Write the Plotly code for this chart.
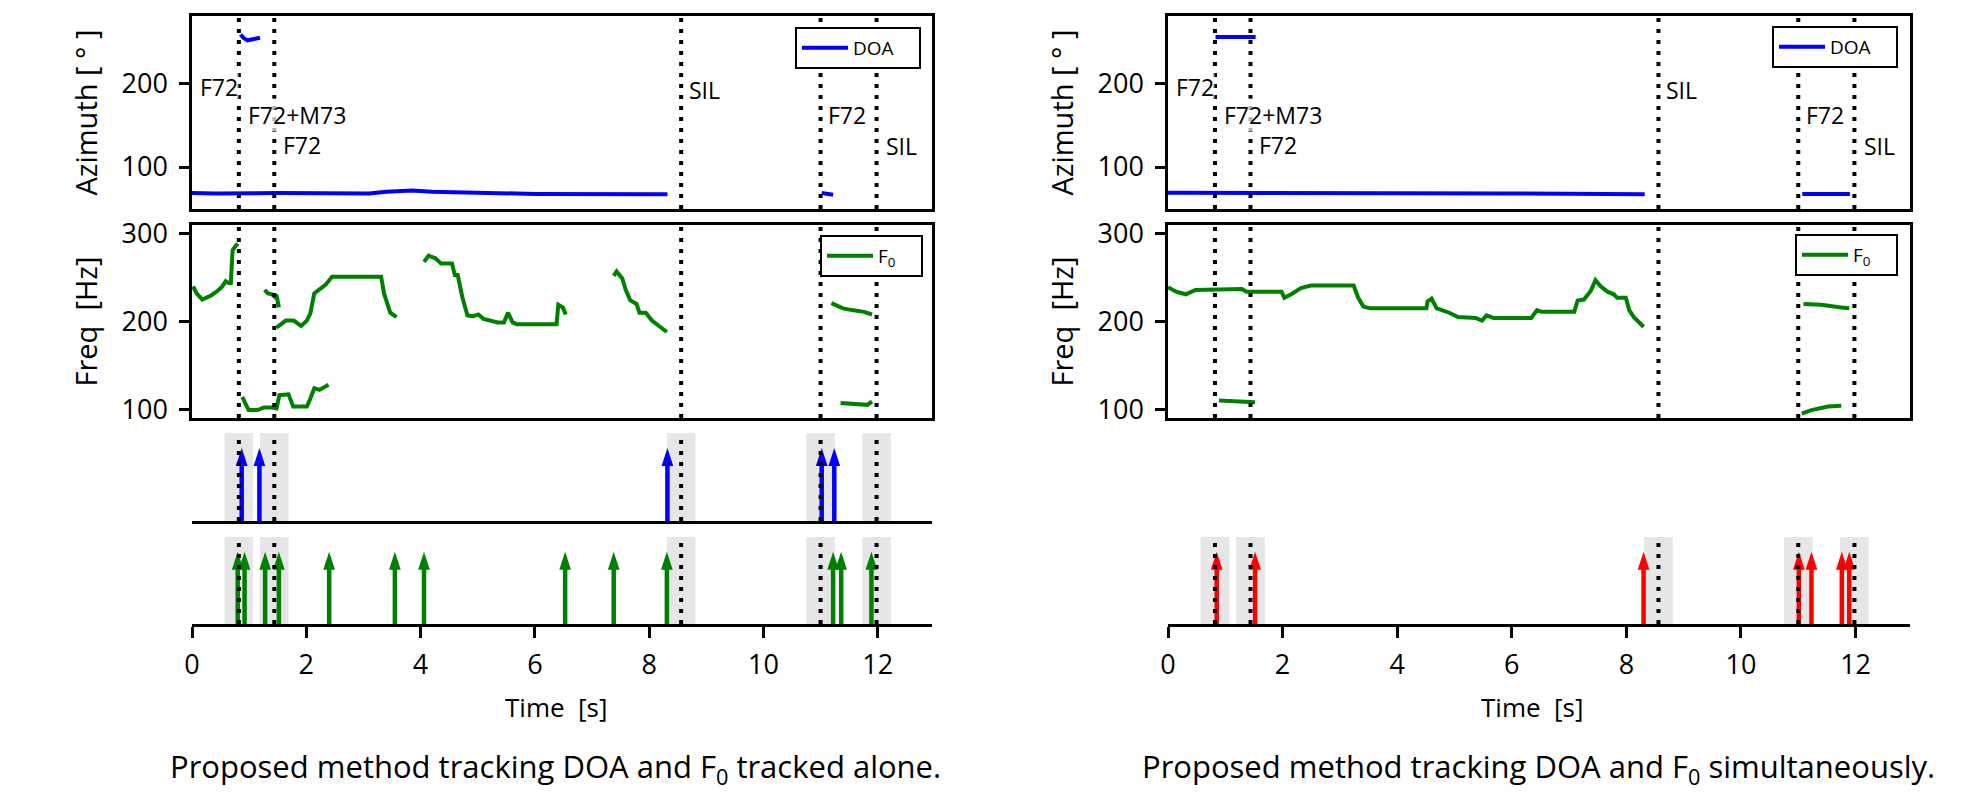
import plotly.graph_objects as go

# reference canvas is 1984x796; the page body adds an 8px margin, so the figure is
# drawn 8px smaller and every pixel position is shifted by that offset
W, H = 1984, 796
OFF = 8
FW, FH = W - OFF, H - OFF

# ---------------- data ----------------
X_RANGE = [0, 12.95]
AZ_RANGE = [50, 280]
F0_RANGE = [90, 310]
TIME_TICKS = [0, 2, 4, 6, 8, 10, 12]
AZ_TICKS = [100, 200]
F0_TICKS = [100, 200, 300]

BOUNDARIES = [0.82, 1.44, 8.56, 11.0, 11.98]
SPAN_HALF = 0.25
LABEL_TEXT = ["F72", "F72+M73", "F72", "SIL", "F72", "SIL"]
LABEL_T = [0.12, 0.96, 1.57, 8.68, 11.12, 12.13]
LABEL_Y = [195, 162, 126, 192, 162, 125]

# left: tracked alone
L_DOA_1_T = [0, 0.4, 1.5, 2.5, 3.1, 3.4, 3.85, 4.2, 4.9, 5.5, 6.0, 8.32]
L_DOA_1_V = [69, 68.5, 69, 68.5, 68.5, 70.5, 72, 70.5, 69.5, 69, 68, 67.5]
L_DOA_2_T = [0.85, 0.9, 0.97, 1.05, 1.12, 1.19]
L_DOA_2_V = [258, 254, 251, 252, 254, 254]
L_DOA_3_T = [11.02, 11.1, 11.22]
L_DOA_3_V = [69, 68.5, 67]

L_F0_1_T = [0.02, 0.08, 0.18, 0.34, 0.45, 0.53, 0.59, 0.64, 0.68, 0.71, 0.75, 0.80]
L_F0_1_V = [240, 232, 225, 230, 235, 240, 246, 244, 244, 281, 285, 289]
L_F0_2_T = [1.27, 1.33, 1.4, 1.45, 1.48, 1.52]
L_F0_2_V = [236, 232, 231, 228, 230, 216]
L_F0_3_T = [1.48, 1.56, 1.64, 1.78, 1.91, 2.01, 2.07, 2.14, 2.23, 2.34, 2.45, 3.31, 3.36, 3.47, 3.58]
L_F0_3_V = [193, 197, 201, 201, 195, 201, 209, 232, 237, 242, 251, 251, 232, 210, 205]
L_F0_4_T = [0.88, 0.99, 1.15, 1.26, 1.40, 1.48, 1.53, 1.69, 1.77, 2.01, 2.07, 2.14, 2.23, 2.39]
L_F0_4_V = [114, 99, 99, 102, 102, 101, 116, 117, 103, 103, 112, 124, 122, 128]
L_F0_5_T = [4.06, 4.14, 4.26, 4.36, 4.55, 4.6, 4.65, 4.73, 4.82, 4.92, 5.01, 5.1, 5.35, 5.46,
            5.53, 5.61, 5.68, 6.38, 6.41, 6.49, 6.54]
L_F0_5_V = [268, 275, 272, 266, 266, 253, 253, 228, 207, 206, 208, 203, 199, 199,
            210, 199, 197, 197, 219, 216, 208]
L_F0_6_T = [7.38, 7.43, 7.53, 7.59, 7.67, 7.78, 7.83, 7.94, 8.05, 8.18, 8.31]
L_F0_6_V = [252, 257, 249, 236, 224, 220, 210, 210, 201, 194, 188]
L_F0_7_T = [11.19, 11.39, 11.55, 11.76, 11.9]
L_F0_7_V = [221, 215, 213, 211, 208]
L_F0_8_T = [11.35, 11.55, 11.82, 11.9]
L_F0_8_V = [107, 106, 105, 109]

L_DOA_ONSETS = [0.87, 1.18, 8.32, 11.02, 11.24]
L_F0_ONSETS = [0.80, 0.92, 1.28, 1.52, 2.40, 3.55, 4.06, 6.53, 7.38, 8.31, 11.22, 11.36, 11.89]

# right: tracked simultaneously
R_DOA_1_T = [0, 3, 6, 8.32]
R_DOA_1_V = [69.5, 69.5, 68.5, 67.5]
R_DOA_2_T = [0.83, 1.53]
R_DOA_2_V = [255, 255]
R_DOA_3_T = [11.07, 11.9]
R_DOA_3_V = [67.8, 67.8]

R_F0_1_T = [0, 0.14, 0.31, 0.48, 1.29, 1.37, 1.98, 2.03, 2.15, 2.32, 2.49, 3.24, 3.32, 3.41, 3.53,
            4.51, 4.53, 4.6, 4.69, 4.79, 4.91, 5.06, 5.37, 5.48, 5.56, 5.68, 6.34, 6.44, 6.52,
            7.09, 7.15, 7.26, 7.32, 7.38, 7.46, 7.55, 7.67, 7.78, 7.84, 7.99, 8.05, 8.13, 8.3]
R_F0_1_V = [239, 234, 231, 236, 237, 234, 234, 227, 231, 238, 241, 241, 227, 217, 215,
            215, 223, 226, 215, 213, 210, 205, 204, 201, 207, 204, 204, 213, 211,
            211, 224, 225, 231, 235, 247, 240, 234, 231, 227, 227, 213, 205, 194]
R_F0_2_T = [0.89, 1.17, 1.52]
R_F0_2_V = [110, 109, 108]
R_F0_3_T = [11.09, 11.4, 11.75, 11.89]
R_F0_3_V = [220, 219, 216, 215]
R_F0_4_T = [11.06, 11.23, 11.52, 11.75]
R_F0_4_V = [95, 99, 103, 104]

R_JOINT_ONSETS = [0.85, 1.52, 8.30, 11.01, 11.23, 11.76, 11.89]

ARROW_TIP = 0.83

# ---------------- styles ----------------
FONT = "Open Sans"
BLUE, GREEN, RED = "#0000ff", "#008000", "#ff0000"

COLS = {"L": (192, 932), "R": (1168, 1910)}
ROWS = {"top": (16, 209), "f0": (225, 418), "a1": (433, 521), "a2": (537, 624)}


def px(v):
    return (v - OFF) / FW


def py(v):
    return 1 - (v - OFF) / FH


def xd(a, b):
    return [px(a), px(b)]


def yd(a, b):
    return [py(b), py(a)]


def join(*segs):
    xs, ys = [], []
    for t, v in segs:
        if xs:
            xs.append(None)
            ys.append(None)
        xs.extend(t)
        ys.extend(v)
    return xs, ys


fig = go.Figure()

AX = {}
idx = 1
for col in ["L", "R"]:
    for row in ["top", "f0", "a1", "a2"]:
        AX[(col, row)] = idx
        idx += 1


def refs(i):
    return ("x" if i == 1 else f"x{i}"), ("y" if i == 1 else f"y{i}")


layout = dict(
    width=FW, height=FH, margin=dict(l=0, r=0, t=0, b=0, autoexpand=False),
    paper_bgcolor="white", plot_bgcolor="white",
    font=dict(family=FONT, size=27, color="black"),
    showlegend=True,
)

for (col, row), i in AX.items():
    xk = "xaxis" if i == 1 else f"xaxis{i}"
    yk = "yaxis" if i == 1 else f"yaxis{i}"
    xr, yr = refs(i)
    xa = dict(domain=xd(*COLS[col]), anchor=yr, range=X_RANGE, showgrid=False,
              zeroline=False, showticklabels=False, ticks="")
    ya = dict(domain=yd(*ROWS[row]), anchor=xr, showgrid=False, zeroline=False)
    if row in ("top", "f0"):
        xa.update(showline=True, mirror=True, linewidth=2.5, linecolor="black")
        ya.update(showline=True, mirror=True, linewidth=2.5, linecolor="black",
                  ticks="outside", ticklen=10, tickwidth=2.5, tickcolor="black",
                  range=AZ_RANGE if row == "top" else F0_RANGE,
                  tickvals=AZ_TICKS if row == "top" else F0_TICKS,
                  tickfont=dict(size=27), ticklabelstandoff=6)
    else:
        ya.update(visible=False, range=[0, 1])
        if col == "R" and row == "a1":
            xa.update(visible=False)
        else:
            xa.update(showline=True, linewidth=3, linecolor="black")
        if row == "a2":
            xa.update(ticks="outside", ticklen=11, tickwidth=2.5, tickcolor="black",
                      tickvals=TIME_TICKS, showticklabels=True,
                      tickfont=dict(size=27), ticklabelstandoff=4)
    layout[xk] = xa
    layout[yk] = ya


def add_line(i, segs, color, name, legend):
    xr, yr = refs(i)
    xs, ys = join(*segs)
    fig.add_trace(go.Scatter(x=xs, y=ys, mode="lines", line=dict(color=color, width=4),
                             name=name, xaxis=xr, yaxis=yr, legend=legend))


PAD = "\u00a0" * 4
add_line(AX[("L", "top")], [(L_DOA_1_T, L_DOA_1_V), (L_DOA_2_T, L_DOA_2_V), (L_DOA_3_T, L_DOA_3_V)],
         BLUE, "DOA" + PAD, "legend")
add_line(AX[("L", "f0")], [(L_F0_1_T, L_F0_1_V), (L_F0_2_T, L_F0_2_V), (L_F0_3_T, L_F0_3_V),
                           (L_F0_4_T, L_F0_4_V), (L_F0_5_T, L_F0_5_V), (L_F0_6_T, L_F0_6_V),
                           (L_F0_7_T, L_F0_7_V), (L_F0_8_T, L_F0_8_V)],
         GREEN, "F<sub>0</sub>" + PAD, "legend2")
add_line(AX[("R", "top")], [(R_DOA_1_T, R_DOA_1_V), (R_DOA_2_T, R_DOA_2_V), (R_DOA_3_T, R_DOA_3_V)],
         BLUE, "DOA" + PAD, "legend3")
add_line(AX[("R", "f0")], [(R_F0_1_T, R_F0_1_V), (R_F0_2_T, R_F0_2_V), (R_F0_3_T, R_F0_3_V),
                           (R_F0_4_T, R_F0_4_V)],
         GREEN, "F<sub>0</sub>" + PAD, "legend4")

SHAFT_TOP = ARROW_TIP - 0.12


def add_arrows(i, onsets, color):
    xr, yr = refs(i)
    xs, ys = [], []
    for t in onsets:
        xs += [t, t, None]
        ys += [0, SHAFT_TOP, None]
    fig.add_trace(go.Scatter(x=xs, y=ys, mode="lines", line=dict(color=color, width=4.5),
                             showlegend=False, xaxis=xr, yaxis=yr, hoverinfo="skip"))
    fig.add_trace(go.Scatter(x=onsets, y=[ARROW_TIP] * len(onsets), mode="markers",
                             marker=dict(symbol="arrow", size=19, color=color, angle=0,
                                         line=dict(width=0)),
                             showlegend=False, xaxis=xr, yaxis=yr, cliponaxis=False,
                             hoverinfo="skip"))


add_arrows(AX[("L", "a1")], L_DOA_ONSETS, BLUE)
add_arrows(AX[("L", "a2")], L_F0_ONSETS, GREEN)
add_arrows(AX[("R", "a2")], R_JOINT_ONSETS, RED)

shapes = []
for key in [("L", "top"), ("L", "f0"), ("L", "a1"), ("L", "a2"),
            ("R", "top"), ("R", "f0"), ("R", "a2")]:
    i = AX[key]
    xr, yr = refs(i)
    if key[1] in ("a1", "a2"):
        for b in BOUNDARIES:
            shapes.append(dict(type="rect", xref=xr, yref=f"{yr} domain",
                               x0=b - SPAN_HALF, x1=b + SPAN_HALF, y0=0, y1=1,
                               fillcolor="#e6e6e6", line=dict(width=0), layer="below"))
    for b in BOUNDARIES:
        shapes.append(dict(type="line", xref=xr, yref=f"{yr} domain", x0=b, x1=b, y0=0, y1=1,
                           line=dict(color="black", width=4, dash="4px,7px"), layer="above"))
layout["shapes"] = shapes

ann = []
for col in ["L", "R"]:
    i = AX[(col, "top")]
    xr, yr = refs(i)
    for txt, t, v in zip(LABEL_TEXT, LABEL_T, LABEL_Y):
        ann.append(dict(text=txt, x=t, y=v, xref=xr, yref=yr, xanchor="left", yanchor="middle",
                        showarrow=False, font=dict(size=23, family=FONT),
                        bgcolor="rgba(255,255,255,0.7)", borderpad=0))
    x0 = COLS[col][0]
    for row, title in [("top", "Azimuth [ ° ]"), ("f0", "Freq  [Hz]")]:
        a, b = ROWS[row]
        ann.append(dict(text=title, x=px(x0 - 107), y=py((a + b) / 2), xref="paper",
                        yref="paper", textangle=-90, showarrow=False, xanchor="center",
                        yanchor="middle", font=dict(size=29, family=FONT)))
    ann.append(dict(text="Time  [s]", x=px(x0 + 364), y=py(707), xref="paper",
                    yref="paper", showarrow=False, xanchor="center", yanchor="middle",
                    font=dict(size=26, family=FONT)))

ann.append(dict(text="Proposed method tracking DOA and F<sub>0</sub> tracked alone.",
                x=px(555), y=py(768), xref="paper", yref="paper", showarrow=False,
                xanchor="center", yanchor="middle", font=dict(size=31, family=FONT)))
ann.append(dict(text="Proposed method tracking DOA and F<sub>0</sub> simultaneously.",
                x=px(1538), y=py(768), xref="paper", yref="paper", showarrow=False,
                xanchor="center", yanchor="middle", font=dict(size=31, family=FONT)))
layout["annotations"] = ann


def leg(xr_px, yt_px):
    return dict(x=px(xr_px), y=py(yt_px), xanchor="right", yanchor="top",
                bgcolor="white", bordercolor="black", borderwidth=2,
                font=dict(size=19, family=FONT), itemwidth=46)


layout["legend"] = leg(921, 27)
layout["legend2"] = leg(923, 235)
layout["legend3"] = leg(1898, 26)
layout["legend4"] = leg(1898, 234)

fig.update_layout(**layout)
fig.write_html("out.html")
